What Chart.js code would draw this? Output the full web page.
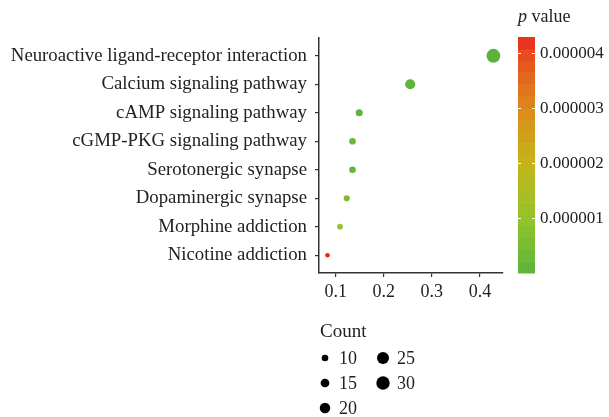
<!DOCTYPE html>
<html>
<head>
<meta charset="utf-8">
<script src="https://cdn.jsdelivr.net/npm/chart.js@4/dist/chart.umd.min.js"></script>
<style>
  html, body { margin: 0; padding: 0; background: #fff; }
  #wrap { width: 609px; height: 417px; }
</style>
</head>
<body>
<div id="wrap"><canvas id="dot"></canvas></div>
<script>
// ---------------------- Data ----------------------
const pathways = [
  'Neuroactive ligand-receptor interaction',
  'Calcium signaling pathway',
  'cAMP signaling pathway',
  'cGMP-PKG signaling pathway',
  'Serotonergic synapse',
  'Dopaminergic synapse',
  'Morphine addiction',
  'Nicotine addiction',
];
const geneRatio = [0.428, 0.255, 0.149, 0.135, 0.135, 0.123, 0.109, 0.083];
const counts    = [32, 19, 11, 10, 10, 9, 8, 6];
const pValues   = [2e-14, 1.5e-8, 5e-8, 3e-7, 1e-7, 5.6e-7, 1.07e-6, 4.29e-6];

const xTicks      = [0.1, 0.2, 0.3, 0.4];
const pTicks      = [0.000001, 0.000002, 0.000003, 0.000004];
const countBreaks = [10, 15, 20, 25, 30];

// ---------------------- Scales (size / colour) ----------------------
const FONT = '"Liberation Serif", "Times New Roman", serif';
const INK = '#222';
const AXIS = '#333';

const pMin = Math.min(...pValues);
const pMax = Math.max(...pValues);

// diameter grows with sqrt(count), like ggplot's scale_size
const radiusFor = (c) => (-2.5 + 2.9 * Math.sqrt(c)) / 2;

// green -> yellow -> orange -> red
const STOPS = [
  [0.00, [92, 179, 59]],
  [0.23, [147, 196, 42]],
  [0.47, [195, 181, 25]],
  [0.70, [221, 138, 27]],
  [0.93, [232, 74, 30]],
  [1.00, [232, 38, 31]],
];
function colorFor(p) {
  const t = Math.max(0, Math.min(1, (p - pMin) / (pMax - pMin)));
  for (let i = 1; i < STOPS.length; i++) {
    if (t <= STOPS[i][0]) {
      const [t0, c0] = STOPS[i - 1], [t1, c1] = STOPS[i];
      const f = (t - t0) / (t1 - t0);
      const c = c0.map((v, k) => Math.round(v + (c1[k] - v) * f));
      return `rgb(${c[0]},${c[1]},${c[2]})`;
    }
  }
  return 'rgb(232,38,31)';
}

const n = pathways.length;
const points = pathways.map((_, i) => ({ x: geneRatio[i], y: n - i, r: radiusFor(counts[i]) }));

// ---------------------- Colour bar + size legend ----------------------
const sideLegends = {
  id: 'sideLegends',
  afterDraw(chart) {
    const { ctx, chartArea: a } = chart;
    ctx.save();

    // colour bar
    const bx = a.right + 15, bw = 17, top = a.top - 1, bot = a.bottom;
    const yFor = (p) => bot - (p - pMin) / (pMax - pMin) * (bot - top);
    const bins = 20;
    for (let i = 0; i < bins; i++) {
      const p0 = pMin + (pMax - pMin) * i / bins;
      const p1 = pMin + (pMax - pMin) * (i + 1) / bins;
      ctx.fillStyle = colorFor((p0 + p1) / 2);
      ctx.fillRect(bx, yFor(p1), bw, yFor(p0) - yFor(p1) + 0.5);
    }
    ctx.strokeStyle = '#fff';
    ctx.lineWidth = 1;
    ctx.font = `17px ${FONT}`;
    ctx.fillStyle = INK;
    ctx.textBaseline = 'middle';
    ctx.textAlign = 'left';
    pTicks.forEach(p => {
      const y = Math.round(yFor(p)) + 0.5;
      ctx.beginPath();
      ctx.moveTo(bx, y); ctx.lineTo(bx + 3, y);
      ctx.moveTo(bx + bw - 3, y); ctx.lineTo(bx + bw, y);
      ctx.stroke();
      ctx.fillText(p.toFixed(6), bx + bw + 5, y);
    });

    // colour bar title
    ctx.textBaseline = 'alphabetic';
    ctx.font = `italic 18px ${FONT}`;
    ctx.fillText('p', bx, 22);
    const pw = ctx.measureText('p ').width;
    ctx.font = `18px ${FONT}`;
    ctx.fillText('value', bx + pw, 22);

    // size legend
    const lx = a.left + 1;
    ctx.font = `19px ${FONT}`;
    ctx.textBaseline = 'middle';
    ctx.fillText('Count', lx, 332);
    ctx.font = `18px ${FONT}`;
    countBreaks.forEach((c, i) => {
      const col = Math.floor(i / 3), row = i % 3;
      const cx = lx + 5 + col * 58;
      const cy = 358 + row * 25;
      ctx.fillStyle = '#000';
      ctx.beginPath();
      ctx.arc(cx, cy, radiusFor(c), 0, Math.PI * 2);
      ctx.fill();
      ctx.fillStyle = INK;
      ctx.fillText(String(c), cx + 14, cy + 1);
    });

    ctx.restore();
  },
};

// ---------------------- Chart ----------------------
new Chart(document.getElementById('dot'), {
  type: 'bubble',
  data: {
    datasets: [{
      data: points,
      backgroundColor: pValues.map(colorFor),
      borderWidth: 0,
      hoverRadius: 0,
    }],
  },
  options: {
    responsive: true,
    maintainAspectRatio: false,
    animation: false,
    events: [],
    layout: { padding: { top: 38, right: 106, bottom: 114, left: 0 } },
    plugins: { legend: { display: false }, tooltip: { enabled: false } },
    scales: {
      x: {
        type: 'linear',
        min: 0.0653,
        max: 0.448,
        afterBuildTicks: (s) => { s.ticks = xTicks.map(v => ({ value: v })); },
        afterFit: (s) => { s.height = 30; },
        ticks: {
          callback: (v) => v.toFixed(1),
          font: { family: FONT, size: 18 },
          color: INK,
          padding: 4,
          maxRotation: 0,
        },
        grid: { drawOnChartArea: false, drawTicks: true, tickLength: 4, color: AXIS, lineWidth: 1.2 },
        border: { display: true, color: AXIS, width: 1.5 },
      },
      y: {
        type: 'linear',
        min: 0.375,
        max: n + 0.625,
        afterBuildTicks: (s) => { s.ticks = pathways.map((_, i) => ({ value: n - i })); },
        afterFit: (s) => { s.width = 319; },
        ticks: {
          callback: (v) => pathways[n - v],
          font: { family: FONT, size: 18.8 },
          color: INK,
          padding: 8,
        },
        grid: { drawOnChartArea: false, drawTicks: true, tickLength: 4, color: AXIS, lineWidth: 1.2 },
        border: { display: true, color: AXIS, width: 1.5 },
      },
    },
  },
  plugins: [sideLegends],
});
</script>
</body>
</html>
